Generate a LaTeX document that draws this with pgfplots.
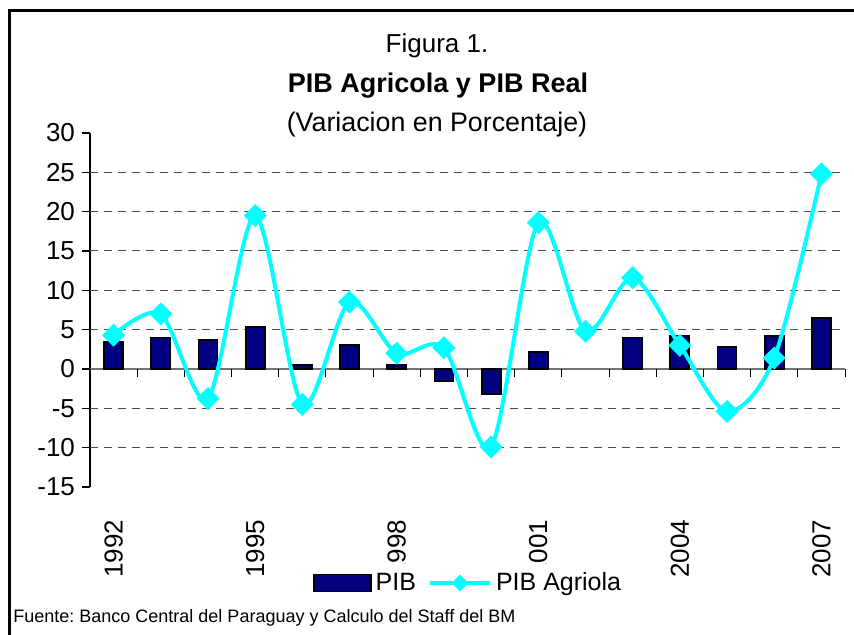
\documentclass[border=0pt]{standalone}
\usepackage{fontspec}
\setmainfont{Liberation Sans}
\usepackage{pgfplots}
\pgfplotsset{compat=1.18}
\definecolor{pibnavy}{RGB}{0,0,128}
\definecolor{agrocyan}{RGB}{0,255,255}
\pgfplotsset{
  barleg/.style={legend image code/.code={\draw[##1] (0pt,-4.25pt) rectangle (28.5pt,4.25pt);}},
  lineleg/.style={legend image code/.code={\draw[mark repeat=2, mark phase=2, ##1, mark size=2.8pt]
        plot coordinates {(0pt,0pt) (15pt,0pt) (30pt,0pt)};}},
}

\begin{document}
\frenchspacing
\begin{tikzpicture}
\useasboundingbox (0,0) rectangle (427pt,-317.5pt);
% frame (only top and left edges are visible)
\draw[line width=1.5pt] (4.5pt,-317.5pt) -- (4.5pt,-5.5pt) -- (427pt,-5.5pt);

% titles
\node[anchor=base, inner sep=0pt, font=\fontsize{13}{15}\selectfont] at (218.5pt,-26.5pt) {Figura 1.};
\node[anchor=base, inner sep=0pt, font=\fontsize{13.5}{15}\selectfont\bfseries] at (219pt,-46.5pt) {PIB Agricola y PIB Real};
\node[anchor=base, inner sep=0pt, font=\fontsize{13.4}{15}\selectfont] at (218.5pt,-66pt) {(Variacion en Porcentaje)};

\begin{axis}[
    at={(45pt,-66.5pt)}, anchor=north west,
    scale only axis, width=377.5pt, height=177pt,
    xmin=-0.5, xmax=15.5, ymin=-15, ymax=30,
    axis x line*=bottom, axis y line*=left,
    x axis line style={draw=none},
    y axis line style={black, line width=0.6pt},
    ytick={-15,-10,...,30},
    xtick={0,3,...,15},
    xticklabels={1992,1995,1998,2001,2004,2007},
    xtick style={draw=none},
    ytick style={black, line width=0.6pt},
    tick align=outside, major tick length=4pt,
    ticklabel style={font=\fontsize{13}{15}\selectfont},
    /pgf/number format/assume math mode=true,
    xticklabel style={rotate=90, anchor=east},
    xticklabel shift=9pt,
    extra y ticks={-10,-5,5,10,15,20,25},
    extra y tick labels={},
    extra y tick style={grid=major, major tick length=0pt},
    major grid style={black!70, dash pattern=on 4pt off 3pt, line width=0.5pt},
    legend style={at={(0.502,-0.271)}, anchor=center, draw=none, fill=white,
        font=\fontsize{12.5}{14}\selectfont, inner sep=2pt,
        /tikz/every even column/.append style={column sep=4pt}},
    legend columns=2,
    clip=false,
]
% zero line and category ticks
\draw[black!55, line width=0.8pt] (axis cs:-0.5,0) -- (axis cs:15.5,0);
\pgfplotsinvokeforeach{-0.5,0.5,...,15.5}{
  \draw[black, line width=0.5pt] (axis cs:#1,0) -- ([yshift=-4pt]axis cs:#1,0);
}

% 2002 has no bar
\addplot[ybar, bar width=9.5pt, fill=pibnavy, draw=black, line width=0.9pt, barleg]
coordinates {
(0,3.4) (1,4.0) (2,3.7) (3,5.3) (4,0.5) (5,3.0) (6,0.5) (7,-1.5)
(8,-3.2) (9,2.2) (11,4.0) (12,4.2) (13,2.8) (14,4.2) (15,6.5)
};
\addlegendentry{PIB}

\addplot[agrocyan, line width=2pt, smooth,
    mark=square*, mark size=3.9pt,
    mark options={rotate=45, fill=agrocyan, draw=agrocyan, line width=0.3pt},
    lineleg]
coordinates {
(0,4.3) (1,7.0) (2,-3.75) (3,19.5) (4,-4.5) (5,8.5) (6,2.0) (7,2.7)
(8,-9.9) (9,18.6) (10,4.8) (11,11.6) (12,3.0) (13,-5.4) (14,1.4) (15,24.8)
};
\addlegendentry{PIB Agriola}
\end{axis}

% source note
\node[anchor=base west, inner sep=0pt, font=\fontsize{9}{11}\selectfont] at (6.5pt,-311pt)
  {Fuente: Banco Central del Paraguay y Calculo del Staff del BM};
\end{tikzpicture}
\end{document}
